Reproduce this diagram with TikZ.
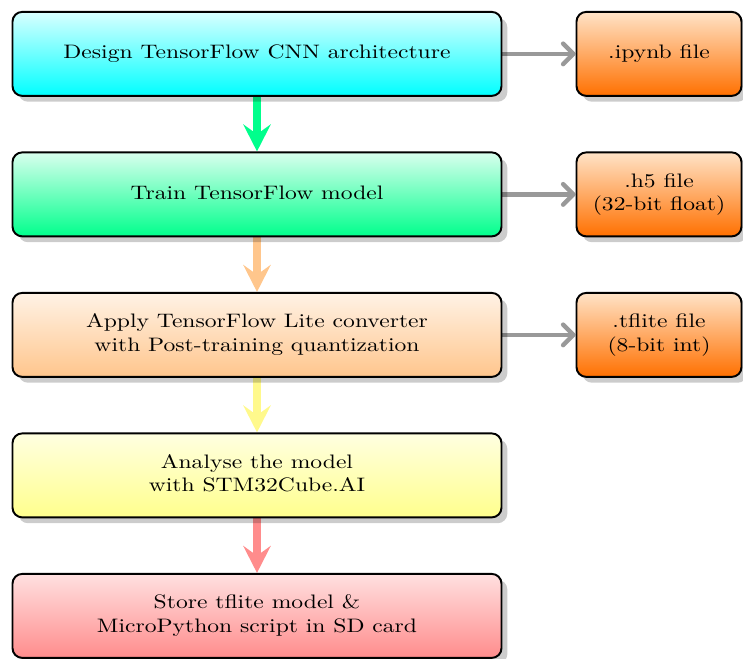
\documentclass[tikz,border=0pt]{standalone}
\usepackage{graphicx}
\usetikzlibrary{arrows.meta,shadows}
\pgfdeclarelayer{background}
\pgfsetlayers{background,main}
\definecolor{sgreen}{RGB}{0,255,140}
\definecolor{deeporange}{RGB}{255,112,0}
\newcommand\wtxt[1]{\scalebox{1.21}[1]{\begin{tabular}{@{}c@{}}#1\end{tabular}}}
\tikzset{
  boxbase/.style={draw=black, line width=1pt, rounded corners=5pt,
    minimum height=84*0.5128pt, inner sep=0pt, align=center,
    drop shadow={shadow xshift=3pt, shadow yshift=-3pt, fill=black, opacity=0.2}},
  mainbox/.style={boxbase, minimum width=489*0.5128pt},
  filebox/.style={boxbase, minimum width=165*0.5128pt, top color=orange!22, bottom color=deeporange},
  flowarrow/.style={line width=4.3pt, -{Stealth[length=13.8pt,width=14pt,inset=5pt]}},
  filearrow/.style={line width=2.3pt, draw=black!40, line cap=round,
    -{Straight Barb[length=5.2pt,width=10.5pt,line cap=round,line join=round]}}
}
\begin{document}
\begin{tikzpicture}[x=0.5128pt, y=-0.5128pt]
\useasboundingbox (0,0) rectangle (743,659);
\node[mainbox, top color=cyan!15, bottom color=cyan] (design) at (257,53.9) {\wtxt{Design TensorFlow CNN architecture}};
\node[mainbox, top color=sgreen!15, bottom color=sgreen] (train) at (257,194.4) {\wtxt{Train TensorFlow model}};
\node[mainbox, top color=orange!10, bottom color=orange!45] (convert) at (257,334.9) {\wtxt{Apply TensorFlow Lite converter\\with Post-training quantization}};
\node[mainbox, top color=yellow!12, bottom color=yellow!45] (analyse) at (257,475.4) {\wtxt{Analyse the model\\with STM32Cube.AI}};
\node[mainbox, top color=red!12, bottom color=red!45] (store) at (257,615.9) {\wtxt{Store tflite model \&\\MicroPython script in SD card}};
\node[filebox] (ipynb) at (659,53.9) {\wtxt{.ipynb file}};
\node[filebox] (h5) at (659,194.4) {\wtxt{.h5 file\\(32-bit float)}};
\node[filebox] (tflite) at (659,334.9) {\wtxt{.tflite file\\(8-bit int)}};
\begin{pgfonlayer}{background}
\draw[flowarrow, draw=sgreen, fill=sgreen] (design.south) -- (train.north);
\draw[flowarrow, draw=orange!45, fill=orange!45] (train.south) -- (convert.north);
\draw[flowarrow, draw=yellow!45, fill=yellow!45] (convert.south) -- (analyse.north);
\draw[flowarrow, draw=red!45, fill=red!45] (analyse.south) -- (store.north);
\draw[filearrow] (design.east) -- (ipynb.west);
\draw[filearrow] (train.east) -- (h5.west);
\draw[filearrow] (convert.east) -- (tflite.west);
\end{pgfonlayer}
\end{tikzpicture}
\end{document}
